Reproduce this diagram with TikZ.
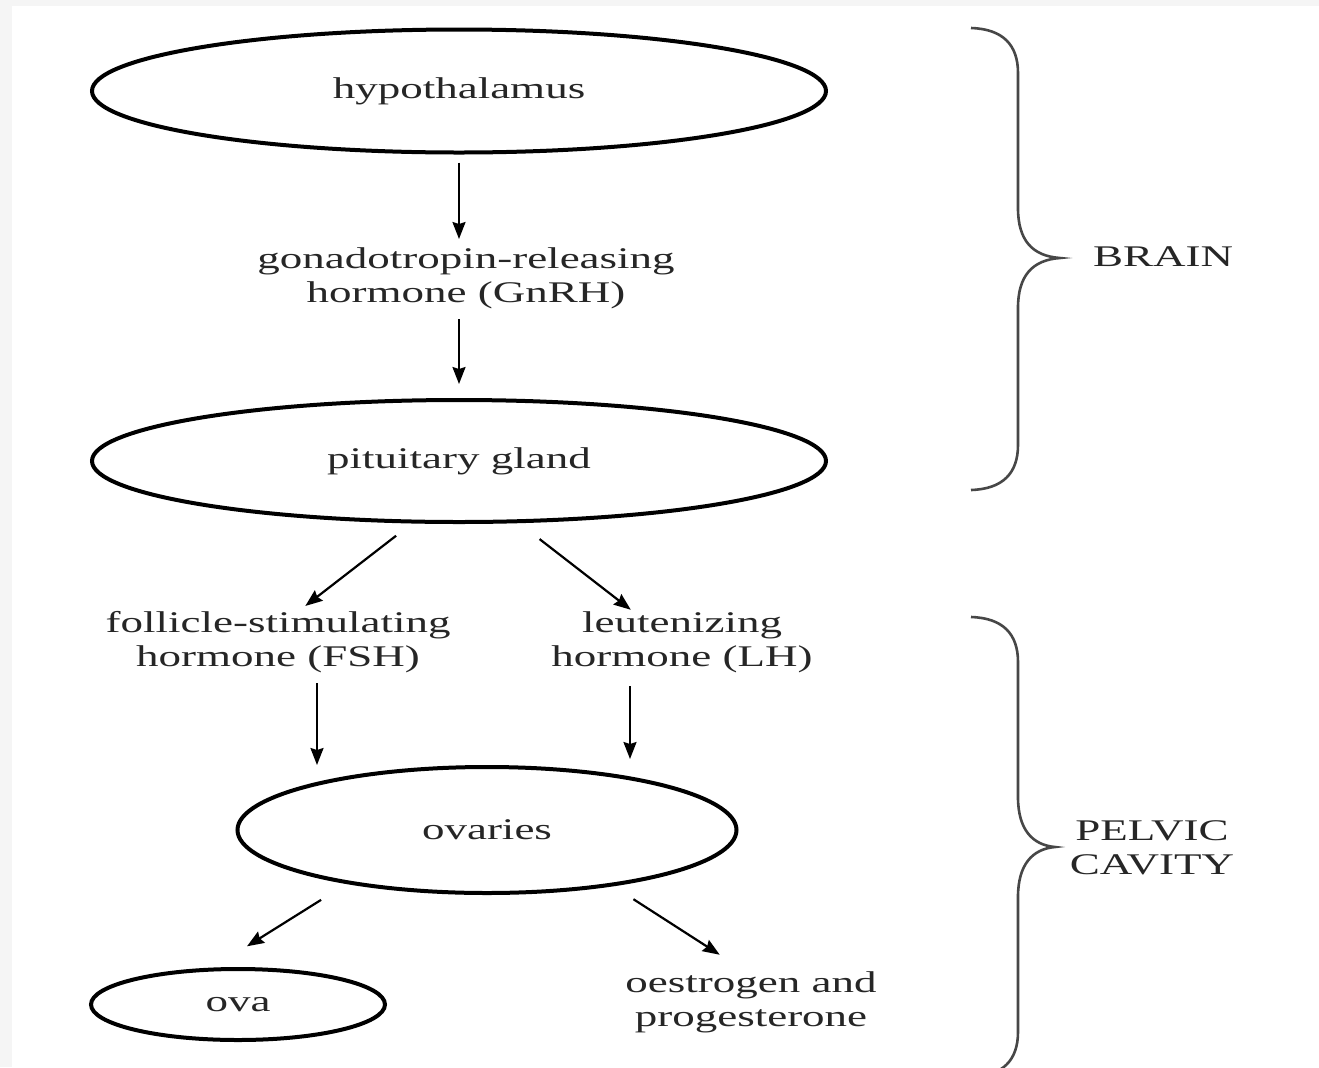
\documentclass[tikz,border=0pt]{standalone}
\usepackage{fontspec}
\setmainfont{Liberation Serif}[FakeStretch=1.5]
\usetikzlibrary{shapes.geometric}
\usetikzlibrary{arrows.meta}
\newcommand{\sidebrace}[4]{\draw[curly] (971,#1) .. controls (1003,#1+1) and (1018,#1+17) .. (1018,#1+45) -- (1018,#2-50) .. controls (1018,#2-18) and (1032,#2-2) .. (#4,#2) .. controls (1032,#2+2) and (1018,#2+18) .. (1018,#2+50) -- (1018,#3-45) .. controls (1018,#3-17) and (1003,#3-1) .. (971,#3);}

\begin{document}
\begin{tikzpicture}[x=0.5pt, y=-0.5pt,
    oval/.style={ellipse, draw=black, line width=2pt, inner sep=0pt, text=black!85, font=\fontsize{15}{17}\selectfont},
    lbl/.style={align=center, inner sep=0pt, text=black!85, font=\fontsize{15}{17}\selectfont},
    arr/.style={-{Stealth[length=8.5pt,width=6.5pt,inset=1pt]}, line width=1.1pt},
    curly/.style={line width=1.3pt, draw=black!72}]
    \useasboundingbox (0,0) rectangle (1319,1067);
    % frame
    \fill[gray!8] (0,0) rectangle (1319,1067);
    \fill[white] (12,6) rectangle (1319,1067);
    % brain
    \node[oval, minimum width=367pt, minimum height=61.5pt] (hyp) at (459,91) {hypothalamus};
    \node[lbl] (gnrh) at (466,278) {gonadotropin-releasing\\hormone (GnRH)};
    \node[oval, minimum width=367pt, minimum height=61pt] (pit) at (459,461) {pituitary gland};
    % pelvic cavity
    \node[lbl] (fsh) at (278,642) {follicle-stimulating\\hormone (FSH)};
    \node[lbl] (lh) at (682,642) {leutenizing\\hormone (LH)};
    \node[oval, minimum width=249.5pt, minimum height=63pt] (ovy) at (487,830) {ovaries};
    \node[oval, minimum width=147pt, minimum height=35.5pt] (ova) at (238,1004.5) {ova};
    \node[lbl] (oes) at (751,1002) {oestrogen and\\progesterone};
    % side labels
    \node[lbl] (brain) at (1163,257) {BRAIN};
    \node[lbl] (pelvic) at (1152,848) {PELVIC\\CAVITY};
    % arrows
    \draw[arr, shorten <=4pt, shorten >=4pt] (hyp) -- (hyp |- gnrh.north);
    \draw[arr, shorten <=5pt, shorten >=7pt] (pit |- gnrh.south) -- (pit);
    \draw[arr, shorten <=10pt, shorten >=4pt] (pit.233) -- (fsh.56);
    \draw[arr, shorten <=13pt, shorten >=1pt] (pit.314) -- (lh.148);
    \draw[arr, shorten <=5pt] ([xshift=19.5pt]fsh.south) -- ([xshift=19.5pt]fsh.south |- ovy.north);
    \draw[arr, shorten <=6.5pt, shorten >=3pt] ([xshift=-26pt]lh.south) -- ([xshift=-26pt]lh.south |- ovy.north);
    \draw[arr, shorten <=15pt, shorten >=20pt] (ovy.201) -- (ova.124);
    \draw[arr, shorten <=12pt, shorten >=15pt] (ovy.336) -- (oes.101);
    % braces
    \begin{scope}
        \clip (0,0) rectangle (1319,1067);
        \sidebrace{28}{258}{490}{1060}
        \sidebrace{617}{847}{1077}{1055}
    \end{scope}
\end{tikzpicture}
\end{document}
